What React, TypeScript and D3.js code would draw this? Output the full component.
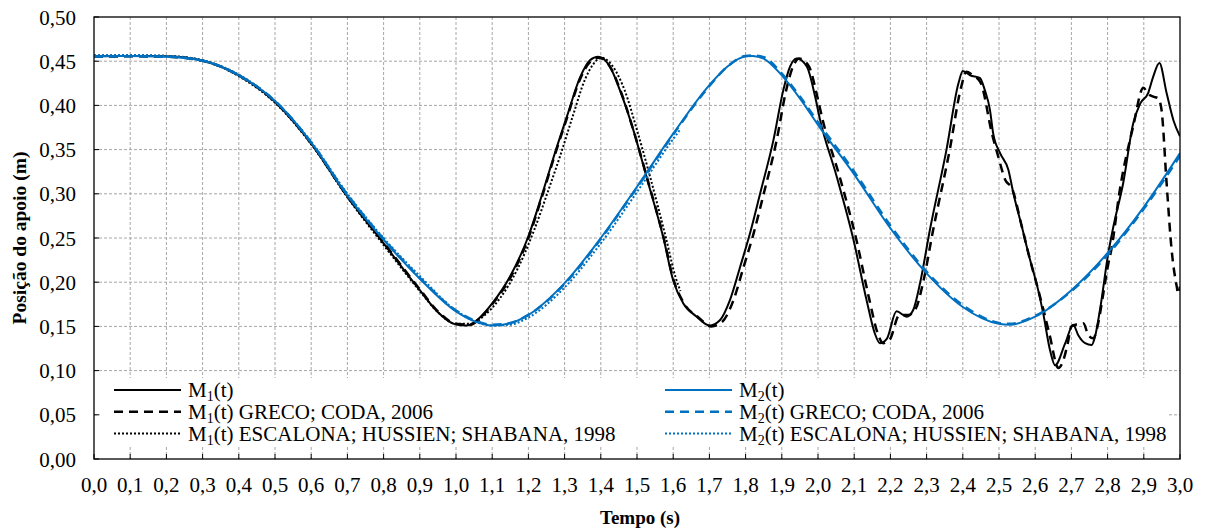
import { useEffect, useRef } from 'react';
import * as d3 from 'd3';

// M1(t) - present work
const m1Time = [0, 0.1, 0.2, 0.3, 0.4, 0.5, 0.6, 0.7, 0.8, 0.9, 0.95, 1.0, 1.03, 1.066, 1.1, 1.15, 1.2, 1.24, 1.27, 1.306, 1.343, 1.37, 1.393, 1.425, 1.453, 1.49, 1.527, 1.573, 1.6, 1.628, 1.665, 1.7, 1.729, 1.757, 1.785, 1.812, 1.84, 1.877, 1.904, 1.923, 1.941, 1.969, 1.992, 2.005, 2.052, 2.098, 2.134, 2.157, 2.171, 2.19, 2.217, 2.245, 2.263, 2.282, 2.309, 2.355, 2.388, 2.4, 2.42, 2.447, 2.461, 2.475, 2.484, 2.503, 2.526, 2.54, 2.563, 2.586, 2.606, 2.622, 2.641, 2.655, 2.683, 2.705, 2.719, 2.738, 2.756, 2.765, 2.779, 2.802, 2.816, 2.843, 2.871, 2.89, 2.912, 2.926, 2.943, 2.963, 2.982, 3.0];
const m1Pos = [0.4555, 0.4558, 0.4555, 0.4505, 0.434, 0.404, 0.357, 0.297, 0.244, 0.191, 0.166, 0.152, 0.151, 0.16, 0.176, 0.207, 0.252, 0.302, 0.342, 0.387, 0.432, 0.451, 0.455, 0.444, 0.417, 0.372, 0.318, 0.25, 0.202, 0.176, 0.161, 0.151, 0.157, 0.18, 0.2175, 0.255, 0.3, 0.361, 0.417, 0.444, 0.453, 0.444, 0.41, 0.385, 0.319, 0.248, 0.18, 0.142, 0.131, 0.136, 0.167, 0.161, 0.1686, 0.199, 0.259, 0.35, 0.425, 0.439, 0.434, 0.431, 0.417, 0.395, 0.368, 0.346, 0.327, 0.3, 0.263, 0.225, 0.195, 0.165, 0.123, 0.106, 0.131, 0.152, 0.14, 0.131, 0.129, 0.138, 0.169, 0.233, 0.263, 0.312, 0.38, 0.402, 0.414, 0.4325, 0.448, 0.414, 0.383, 0.365];

// M1(t) GRECO; CODA, 2006
const m1GrecoTime = [0, 0.1, 0.2, 0.3, 0.4, 0.5, 0.6, 0.7, 0.8, 0.9, 0.95, 1.0, 1.04, 1.07, 1.1, 1.15, 1.2, 1.24, 1.27, 1.306, 1.343, 1.37, 1.395, 1.425, 1.455, 1.49, 1.53, 1.575, 1.6, 1.63, 1.67, 1.705, 1.735, 1.765, 1.795, 1.822, 1.85, 1.886, 1.912, 1.931, 1.948, 1.975, 1.998, 2.012, 2.06, 2.106, 2.142, 2.165, 2.18, 2.198, 2.225, 2.25, 2.27, 2.29, 2.318, 2.364, 2.395, 2.41, 2.425, 2.45, 2.48, 2.498, 2.517, 2.536, 2.563, 2.586, 2.606, 2.625, 2.64, 2.664, 2.678, 2.69, 2.7, 2.733, 2.747, 2.76, 2.774, 2.788, 2.802, 2.81, 2.834, 2.87, 2.899, 2.912, 2.926, 2.94, 2.949, 2.963, 2.977, 2.991, 2.995, 3.0];
const m1GrecoPos = [0.455, 0.4555, 0.455, 0.4505, 0.434, 0.404, 0.357, 0.297, 0.245, 0.192, 0.167, 0.153, 0.152, 0.161, 0.175, 0.205, 0.25, 0.3, 0.34, 0.385, 0.43, 0.449, 0.454, 0.444, 0.416, 0.372, 0.315, 0.248, 0.204, 0.176, 0.16, 0.15, 0.155, 0.178, 0.218, 0.255, 0.3, 0.361, 0.417, 0.444, 0.453, 0.444, 0.41, 0.385, 0.319, 0.248, 0.18, 0.142, 0.131, 0.135, 0.163, 0.163, 0.17, 0.199, 0.259, 0.35, 0.42, 0.438, 0.435, 0.425, 0.369, 0.342, 0.316, 0.306, 0.263, 0.225, 0.195, 0.165, 0.14, 0.103, 0.112, 0.131, 0.15, 0.1535, 0.14, 0.1365, 0.1535, 0.187, 0.221, 0.236, 0.305, 0.375, 0.42, 0.413, 0.41, 0.408, 0.395, 0.312, 0.236, 0.195, 0.187, 0.195];

// M1(t) ESCALONA; HUSSIEN; SHABANA, 1998
const m1EscalonaTime = [0, 0.1, 0.2, 0.3, 0.4, 0.5, 0.6, 0.7, 0.8, 0.9, 0.95, 1.0, 1.04, 1.08, 1.12, 1.17, 1.215, 1.256, 1.287, 1.322, 1.357, 1.38, 1.402, 1.435, 1.466, 1.5, 1.537, 1.58, 1.607, 1.62];
const m1EscalonaPos = [0.4565, 0.4565, 0.456, 0.451, 0.433, 0.403, 0.356, 0.296, 0.242, 0.19, 0.166, 0.153, 0.153, 0.163, 0.181, 0.215, 0.258, 0.305, 0.342, 0.387, 0.43, 0.447, 0.454, 0.443, 0.417, 0.372, 0.318, 0.25, 0.205, 0.19];

// M2(t) - present work
const m2Time = [0, 0.1, 0.2, 0.3, 0.4, 0.5, 0.6, 0.7, 0.8, 0.9, 1.0, 1.05, 1.1, 1.15, 1.2, 1.3, 1.4, 1.5, 1.6, 1.7, 1.75, 1.8, 1.82, 1.85, 1.9, 1.95, 2.0, 2.1, 2.2, 2.3, 2.4, 2.5, 2.53, 2.6, 2.7, 2.8, 2.9, 3.0];
const m2Pos = [0.4555, 0.4558, 0.455, 0.4505, 0.434, 0.405, 0.358, 0.298, 0.248, 0.204, 0.167, 0.156, 0.151, 0.1535, 0.163, 0.199, 0.25, 0.308, 0.368, 0.423, 0.444, 0.4555, 0.456, 0.453, 0.434, 0.408, 0.378, 0.322, 0.261, 0.21, 0.172, 0.153, 0.152, 0.161, 0.191, 0.233, 0.285, 0.346];

// M2(t) GRECO; CODA, 2006
const m2GrecoTime = [0, 0.1, 0.2, 0.3, 0.4, 0.5, 0.6, 0.7, 0.8, 0.9, 1.0, 1.05, 1.1, 1.15, 1.2, 1.3, 1.4, 1.5, 1.6, 1.7, 1.75, 1.8, 1.82, 1.85, 1.9, 1.95, 2.0, 2.1, 2.2, 2.3, 2.4, 2.5, 2.53, 2.6, 2.7, 2.8, 2.9, 3.0];
const m2GrecoPos = [0.455, 0.4555, 0.455, 0.4505, 0.434, 0.405, 0.358, 0.299, 0.249, 0.205, 0.168, 0.157, 0.152, 0.154, 0.163, 0.198, 0.249, 0.307, 0.367, 0.422, 0.444, 0.456, 0.4565, 0.4545, 0.436, 0.41, 0.381, 0.325, 0.264, 0.212, 0.174, 0.154, 0.153, 0.162, 0.19, 0.231, 0.283, 0.343];

// M2(t) ESCALONA; HUSSIEN; SHABANA, 1998
const m2EscalonaTime = [0, 0.1, 0.2, 0.3, 0.4, 0.5, 0.6, 0.7, 0.8, 0.9, 1.0, 1.05, 1.1, 1.15, 1.2, 1.3, 1.4, 1.5, 1.6, 1.62];
const m2EscalonaPos = [0.4565, 0.457, 0.456, 0.451, 0.435, 0.405, 0.359, 0.3, 0.25, 0.207, 0.168, 0.156, 0.151, 0.152, 0.16, 0.194, 0.244, 0.302, 0.362, 0.373];

const xTickValues = [0, 0.1, 0.2, 0.3, 0.4, 0.5, 0.6, 0.7, 0.8, 0.9, 1.0, 1.1, 1.2, 1.3, 1.4, 1.5, 1.6, 1.7, 1.8, 1.9, 2.0, 2.1, 2.2, 2.3, 2.4, 2.5, 2.6, 2.7, 2.8, 2.9, 3.0];
const yTickValues = [0, 0.05, 0.1, 0.15, 0.2, 0.25, 0.3, 0.35, 0.4, 0.45, 0.5];

const BLACK = '#000000';
const BLUE = '#0070C0';
const FONT = 'Liberation Serif, Times New Roman, serif';

export default function App() {
  const ref = useRef<SVGSVGElement | null>(null);

  useEffect(() => {
    const svg = d3.select(ref.current);
    svg.selectAll('*').remove();

    const left = 94, right = 1180, top = 17, bottom = 459;

    const x = d3.scaleLinear().domain([0, 3]).range([left, right]);
    const y = d3.scaleLinear().domain([0, 0.5]).range([bottom, top]);

    const comma = (v: number, d: number) => v.toFixed(d).replace('.', ',');

    // grid
    const grid = svg.append('g');
    grid.selectAll('line.vx')
      .data(xTickValues.slice(1, -1))
      .join('line')
      .attr('x1', d => x(d)).attr('x2', d => x(d))
      .attr('y1', top).attr('y2', bottom)
      .attr('stroke', '#a6a6a6').attr('stroke-width', 1)
      .attr('stroke-dasharray', '3,2');
    grid.selectAll('line.hy')
      .data(yTickValues.slice(1, -1))
      .join('line')
      .attr('x1', left).attr('x2', right)
      .attr('y1', d => y(d)).attr('y2', d => y(d))
      .attr('stroke', '#a6a6a6').attr('stroke-width', 1)
      .attr('stroke-dasharray', '3,2');

    // series
    const series = [
      { t: m1Time, v: m1Pos, color: BLACK, dash: null, w: 2 },
      { t: m1GrecoTime, v: m1GrecoPos, color: BLACK, dash: '9,6', w: 2.5 },
      { t: m1EscalonaTime, v: m1EscalonaPos, color: BLACK, dash: '2,2', w: 2 },
      { t: m2Time, v: m2Pos, color: BLUE, dash: null, w: 2 },
      { t: m2GrecoTime, v: m2GrecoPos, color: BLUE, dash: '9,6', w: 2.5 },
      { t: m2EscalonaTime, v: m2EscalonaPos, color: BLUE, dash: '2,2', w: 2 },
    ];

    svg.append('clipPath').attr('id', 'plotClip')
      .append('rect')
      .attr('x', left).attr('y', top)
      .attr('width', right - left).attr('height', bottom - top);

    const line = d3.line<[number, number]>()
      .curve(d3.curveMonotoneX)
      .x(d => x(d[0]))
      .y(d => y(d[1]));

    const plot = svg.append('g').attr('clip-path', 'url(#plotClip)');
    series.forEach(s => {
      const pts = s.t.map((t, i) => [t, s.v[i]] as [number, number]);
      plot.append('path')
        .datum(pts)
        .attr('fill', 'none')
        .attr('stroke', s.color)
        .attr('stroke-width', s.w)
        .attr('stroke-dasharray', s.dash)
        .attr('stroke-linejoin', 'round')
        .attr('d', line);
    });

    // legend (white box hides the grid)
    const legendRows = [390, 411.8, 433.6];
    svg.append('rect')
      .attr('x', 100).attr('y', 378)
      .attr('width', 1069).attr('height', 67)
      .attr('fill', '#fff');

    const legendItems = [
      { col: 0, row: 0, sub: '1', text: '(t)', color: BLACK, dash: null, w: 2 },
      { col: 0, row: 1, sub: '1', text: '(t) GRECO; CODA, 2006', color: BLACK, dash: '9,6', w: 2.5 },
      { col: 0, row: 2, sub: '1', text: '(t) ESCALONA; HUSSIEN; SHABANA, 1998', color: BLACK, dash: '2,2', w: 2 },
      { col: 1, row: 0, sub: '2', text: '(t)', color: BLUE, dash: null, w: 2 },
      { col: 1, row: 1, sub: '2', text: '(t) GRECO; CODA, 2006', color: BLUE, dash: '9,6', w: 2.5 },
      { col: 1, row: 2, sub: '2', text: '(t) ESCALONA; HUSSIEN; SHABANA, 1998', color: BLUE, dash: '2,2', w: 2 },
    ];
    const colX = [114, 665];
    legendItems.forEach(it => {
      const ly = legendRows[it.row];
      const lx = colX[it.col];
      svg.append('line')
        .attr('x1', lx).attr('x2', lx + 67)
        .attr('y1', ly).attr('y2', ly)
        .attr('stroke', it.color)
        .attr('stroke-width', it.w)
        .attr('stroke-dasharray', it.dash);
      const txt = svg.append('text')
        .attr('x', lx + 74).attr('y', ly + 7)
        .attr('font-family', FONT)
        .attr('font-size', 21)
        .attr('fill', '#000');
      txt.append('tspan').text('M');
      txt.append('tspan').attr('dy', 4).attr('font-size', 14).text(it.sub);
      txt.append('tspan').attr('dy', -4).text(it.text);
    });

    // plot border
    svg.append('rect')
      .attr('x', left).attr('y', top)
      .attr('width', right - left).attr('height', bottom - top)
      .attr('fill', 'none')
      .attr('stroke', '#000').attr('stroke-width', 1.3);

    // inside ticks
    svg.selectAll('line.xt')
      .data(xTickValues)
      .join('line')
      .attr('x1', d => x(d)).attr('x2', d => x(d))
      .attr('y1', bottom).attr('y2', bottom - 5)
      .attr('stroke', '#000').attr('stroke-width', 1);
    svg.selectAll('line.yt')
      .data(yTickValues)
      .join('line')
      .attr('x1', left).attr('x2', left + 5)
      .attr('y1', d => y(d)).attr('y2', d => y(d))
      .attr('stroke', '#000').attr('stroke-width', 1);

    // tick labels
    svg.append('g').selectAll('text')
      .data(xTickValues)
      .join('text')
      .attr('x', d => x(d))
      .attr('y', 491.5)
      .attr('text-anchor', 'middle')
      .attr('font-family', FONT)
      .attr('font-size', 21)
      .text(d => comma(d, 1));
    svg.append('g').selectAll('text')
      .data(yTickValues)
      .join('text')
      .attr('x', 76)
      .attr('y', d => y(d) + 7.5)
      .attr('text-anchor', 'end')
      .attr('font-family', FONT)
      .attr('font-size', 21)
      .text(d => comma(d, 2));

    // axis titles
    svg.append('text')
      .attr('x', 640).attr('y', 524)
      .attr('text-anchor', 'middle')
      .attr('font-family', FONT)
      .attr('font-size', 19)
      .attr('font-weight', 'bold')
      .text('Tempo (s)');
    svg.append('text')
      .attr('transform', 'translate(26,238) rotate(-90)')
      .attr('text-anchor', 'middle')
      .attr('font-family', FONT)
      .attr('font-size', 19.5)
      .attr('font-weight', 'bold')
      .text('Posição do apoio (m)');
  }, []);

  return (
    <svg
      ref={ref}
      width={1205}
      height={528}
      style={{ position: 'absolute', left: 0, top: 0, background: '#fff' }}
    />
  );
}
